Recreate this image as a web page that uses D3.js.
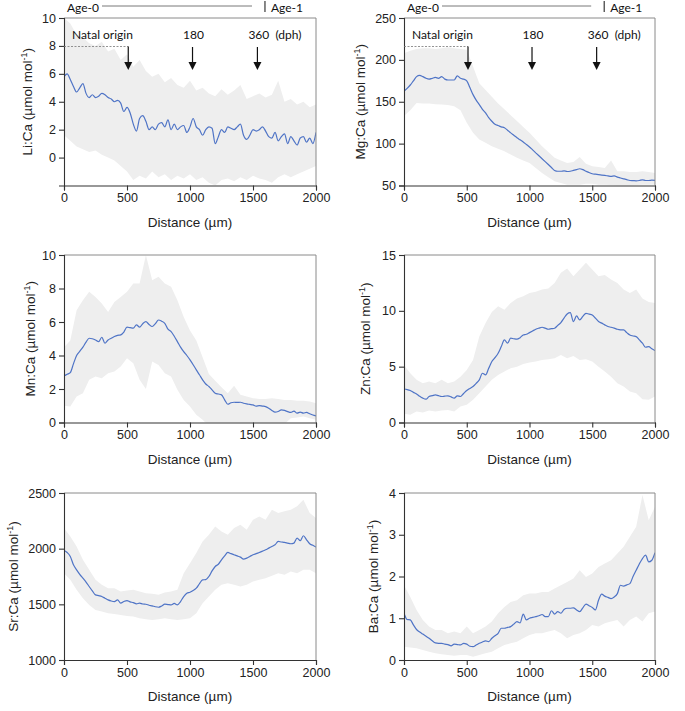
<!DOCTYPE html>
<html><head><meta charset="utf-8">
<script src="https://cdn.jsdelivr.net/npm/d3@7"></script>
<style>
body{margin:0;background:#fff;}
svg{display:block;}
.tick text{font-family:"Liberation Sans",Arial,sans-serif;font-size:12.5px;fill:#222;}
.ann{font-family:Lato,"Open Sans",sans-serif;font-size:12px;fill:#111;}
</style></head>
<body>
<svg id="c" width="685" height="711"></svg>
<script>
// ---------- DATA ----------
const meanStep = 25, bandStep = 50;
const liMean = [5.8,6.0,5.6,5.1,4.7,5.0,5.3,4.6,4.3,4.5,4.3,4.4,4.6,4.5,4.3,4.2,4.0,4.1,3.9,3.3,3.6,3.2,2.4,1.9,2.8,3.0,2.6,2.0,2.2,2.0,2.4,2.5,2.2,2.7,2.0,2.4,2.0,2.2,2.3,1.8,2.2,2.8,2.2,2.0,1.6,2.0,2.2,2.1,1.0,1.5,2.0,1.8,2.2,2.1,2.0,2.2,2.4,1.6,1.3,1.6,2.0,1.9,2.0,2.2,1.9,1.5,1.4,1.8,1.2,1.5,1.7,1.0,1.5,1.2,0.9,1.4,1.5,1.1,1.4,1.0,1.8];
const liHigh = [10,9.6,8.8,8.6,8.2,8.0,8.3,7.6,7.8,7.0,7.4,6.5,7.0,6.2,5.8,6.0,5.4,5.7,5.2,5.0,5.5,4.8,5.0,4.6,4.4,4.9,4.5,4.8,5.2,4.2,4.4,4.6,4.3,4.5,5.5,4.0,4.2,3.8,4.0,3.6,3.8];
const liLow = [1.6,1.2,0.8,0.6,0.4,0.5,0.2,0.0,-0.2,-0.6,-1.0,-1.6,-1.3,-1.5,-1.0,-1.4,-1.2,-1.6,-1.3,-1.5,-1.2,-1.6,-1.4,-1.8,-2.0,-1.6,-1.5,-1.7,-1.4,-1.6,-1.3,-1.5,-1.6,-1.8,-1.4,-1.2,-1.4,-1.2,-1.0,-0.8,-0.6];

const mgMean = [162.5,166,170,175,180,181.5,180,178,177,178,179,178,180,177,176,176,176,181,178,177,175,167,158.5,152,146.6,141,136.7,131,126.7,123,121.6,120,119,116,112.8,110,107,104.5,102,99,96,92.5,89,85.5,82,78.5,75,71.5,68,67,67,67.5,66.7,67,68,69,70,69,67,65.5,64,63.5,63,62.5,62,61.5,61,61.5,60,59,58,57,56,55.8,55.6,56,56.8,56,56,56.3,56];
const mgHigh = [208,211,213,214,214,213,214,215,214,213,212,192,172,164,156,148,141,134,127,120,113,105,97,90,83,80,77,78,84,76,73,72,71,80,67,67,66,66,67,66,65];
const mgLow = [133,140,148.6,148,148,147,146.6,146,144.6,140,125,113,105,101,97,94,91,87,83,80,77,71,65,60,55,53,51,51,51,52,52,51,51,50.5,50,50,50,50.5,51,51,51];

const mnMean = [2.78,2.88,2.98,3.5,4.0,4.25,4.5,4.8,5.03,5.0,4.93,4.83,5.09,4.73,4.93,5.03,5.13,5.2,5.23,5.4,5.69,5.66,5.63,5.83,5.69,5.9,6.02,5.85,5.73,5.9,6.12,6.05,5.92,5.57,5.43,5.15,4.83,4.5,4.23,4.0,3.74,3.45,3.14,2.85,2.54,2.3,2.15,1.95,1.75,1.7,1.65,1.35,1.09,1.18,1.21,1.2,1.21,1.15,1.11,1.08,1.05,0.98,1.01,0.98,0.95,0.85,0.72,0.62,0.66,0.75,0.72,0.65,0.6,0.68,0.56,0.62,0.56,0.6,0.52,0.45,0.4];
const mnHigh = [4.5,4.9,6.7,7.3,7.8,7.5,7.1,6.6,7.2,7.5,7.8,8.3,8.3,10.0,8.5,8.7,8.3,8.1,7.3,6.3,5.5,4.9,3.9,2.9,2.5,2.1,1.75,2.2,1.65,1.55,1.45,1.4,1.4,1.45,1.4,1.35,1.35,1.3,1.3,1.25,1.15];
const mnLow = [1.0,0.95,1.55,1.75,2.55,2.75,2.64,2.94,3.04,3.34,3.84,3.54,2.55,2.0,3.64,3.44,2.94,2.75,1.95,1.35,0.95,0.46,0.16,-0.2,-0.3,-0.3,-0.3,-0.3,-0.3,-0.3,-0.2,-0.3,-0.3,-0.2,-0.2,-0.1,0.26,0.3,0.36,0.25,0.16];

const znMean = [3.0,2.95,2.86,2.7,2.56,2.35,2.18,2.09,2.33,2.4,2.48,2.4,2.33,2.36,2.39,2.3,2.18,2.39,2.33,2.6,2.86,3.05,3.22,3.5,3.82,4.41,4.26,4.86,5.46,5.8,6.2,6.8,7.4,7.1,7.55,7.5,7.46,7.6,7.84,7.9,8.05,8.2,8.35,8.45,8.53,8.45,8.35,8.4,8.44,8.7,8.95,9.35,9.72,9.84,9.04,9.54,9.19,9.5,9.78,9.7,9.63,9.35,9.04,8.9,8.74,8.6,8.53,8.45,8.35,8.3,8.29,8.05,7.84,7.75,7.69,7.4,7.1,6.74,6.8,6.6,6.44];
const znHigh = [5.16,4.41,3.82,3.52,3.67,3.52,3.82,3.52,3.67,4.1,4.7,5.6,7.7,8.9,9.9,10.4,10.1,10.7,11.1,11.3,11.6,11.7,11.9,12.0,12.5,13.4,13.8,13.1,13.7,14.3,13.7,13.1,13.2,12.8,12.5,11.9,11.6,11.9,11.1,10.8,10.7];
const znLow = [0.78,0.69,0.98,0.89,1.07,0.98,1.07,1.13,0.98,1.43,1.58,2.03,2.62,3.22,3.82,4.26,4.56,4.86,5.0,5.25,5.37,5.46,5.6,5.67,5.76,6.05,5.76,5.96,5.6,5.67,5.46,5.0,4.56,4.1,3.52,3.22,2.77,2.62,2.09,2.03,2.33];

const srMean = [1984,1966,1930,1855,1810,1770,1735,1700,1660,1620,1585,1578,1570,1555,1540,1530,1525,1540,1510,1525,1534,1522,1516,1505,1510,1503,1501,1492,1486,1478,1474,1485,1501,1498,1495,1508,1495,1525,1570,1600,1609,1625,1645,1685,1720,1722,1750,1800,1840,1860,1900,1935,1966,1955,1945,1935,1924,1906,1915,1930,1945,1955,1966,1978,1990,2005,2020,2035,2065,2060,2056,2050,2044,2050,2095,2071,2116,2080,2044,2030,2014];
const srHigh = [2185,2110,2020,1900,1810,1720,1675,1645,1645,1615,1624,1630,1615,1600,1594,1585,1606,1615,1630,1780,1870,1960,2065,2125,2200,2155,2125,2185,2215,2170,2260,2290,2260,2350,2320,2335,2350,2380,2440,2320,2275];
const srLow = [1780,1720,1630,1555,1495,1450,1435,1420,1414,1405,1396,1390,1375,1366,1360,1366,1375,1366,1360,1366,1375,1420,1510,1570,1630,1675,1690,1675,1660,1675,1705,1720,1735,1756,1780,1765,1795,1780,1810,1810,1780];

const baMean = [1.12,0.97,0.96,0.84,0.73,0.67,0.62,0.57,0.52,0.46,0.41,0.40,0.40,0.38,0.37,0.34,0.38,0.37,0.36,0.40,0.38,0.33,0.32,0.36,0.40,0.43,0.46,0.44,0.52,0.58,0.64,0.76,0.76,0.78,0.80,0.86,0.92,0.89,1.10,0.96,1.0,1.02,1.04,1.06,1.09,1.04,1.04,1.18,1.10,1.16,1.12,1.21,1.24,1.24,1.25,1.20,1.16,1.25,1.34,1.30,1.26,1.20,1.43,1.58,1.53,1.50,1.47,1.51,1.59,1.79,1.77,1.80,1.83,2.0,2.15,2.30,2.43,2.51,2.35,2.39,2.57];
const baHigh = [1.79,1.51,1.2,0.96,0.8,0.72,0.72,0.64,0.68,0.64,0.8,0.64,0.72,0.8,0.92,1.12,1.27,1.39,1.43,1.55,1.59,1.59,1.63,1.63,1.71,1.79,1.87,1.95,2.15,1.99,2.07,2.23,2.31,2.39,2.55,2.71,2.95,3.19,3.95,3.35,3.67];
const baLow = [0.32,0.30,0.28,0.24,0.2,0.16,0.14,0.12,0.1,0.12,0.12,0.08,0.12,0.16,0.2,0.28,0.36,0.4,0.44,0.52,0.6,0.64,0.64,0.68,0.72,0.64,0.52,0.6,0.64,0.72,0.84,0.8,0.88,0.92,0.96,0.8,0.96,1.04,0.92,1.12,1.16];

const xTicks = [0,500,1000,1500,2000];
const liTicks = [0,2,4,6,8,10], mgTicks = [50,100,150,200,250], mnTicks = [0,2,4,6,8,10];
const znTicks = [0,5,10,15], srTicks = [1000,1500,2000,2500], baTicks = [0,1,2,3,4];
const markers = ["Natal origin","180","360"];
const markerDist = [510,1020,1535];

// ---------- LAYOUT ----------
const svg = d3.select("#c");
const FONT = '"Liberation Sans",Arial,sans-serif';
const cols = [[64,316],[404,655]];
const rows = [[185.5,18],[422.5,255],[660,493]];
const panels = [
  {el:"Li", mean:liMean, hi:liHigh, lo:liLow, dom:[-2,10], ticks:liTicks, c:0, r:0, lx:27},
  {el:"Mg", mean:mgMean, hi:mgHigh, lo:mgLow, dom:[50,250], ticks:mgTicks, c:1, r:0, lx:360},
  {el:"Mn", mean:mnMean, hi:mnHigh, lo:mnLow, dom:[0,10], ticks:mnTicks, c:0, r:1, lx:30},
  {el:"Zn", mean:znMean, hi:znHigh, lo:znLow, dom:[0,15], ticks:znTicks, c:1, r:1, lx:365},
  {el:"Sr", mean:srMean, hi:srHigh, lo:srLow, dom:[1000,2500], ticks:srTicks, c:0, r:2, lx:13},
  {el:"Ba", mean:baMean, hi:baHigh, lo:baLow, dom:[0,4], ticks:baTicks, c:1, r:2, lx:373},
];

panels.forEach((p,i)=>{
  const x = d3.scaleLinear().domain([0,2000]).range(cols[p.c]);
  const y = d3.scaleLinear().domain(p.dom).range(rows[p.r]);
  const g = svg.append("g");
  const cid = "clip"+i;
  svg.append("clipPath").attr("id",cid).append("rect")
    .attr("x",x.range()[0]).attr("y",y.range()[1])
    .attr("width",x.range()[1]-x.range()[0]).attr("height",y.range()[0]-y.range()[1]);
  const bandData = p.hi.map((h,k)=>({d:k*bandStep,h:h,l:p.lo[k]}));
  g.append("path").datum(bandData).attr("clip-path",`url(#${cid})`)
    .attr("fill","#eeeeee")
    .attr("d",d3.area().x(d=>x(d.d)).y0(d=>y(d.l)).y1(d=>y(d.h)).curve(d3.curveLinear));
  const meanData = p.mean.map((v,k)=>({d:k*meanStep,v:v}));
  g.append("path").datum(meanData).attr("clip-path",`url(#${cid})`)
    .attr("fill","none").attr("stroke","#4f74c6").attr("stroke-width",1.2)
    .attr("d",d3.line().x(d=>x(d.d)).y(d=>y(d.v)).curve(d3.curveMonotoneX));
  // frame top/right
  g.append("path").attr("fill","none").attr("stroke","#8a8a8a").attr("stroke-width",1)
    .attr("d",`M${x.range()[0]},${y.range()[1]}H${x.range()[1]}V${y.range()[0]}`);
  const ax = g.append("g").attr("transform",`translate(0,${y.range()[0]})`)
    .call(d3.axisBottom(x).tickValues(xTicks).tickSize(5).tickPadding(3).tickFormat(d3.format("d")));
  const ay = g.append("g").attr("transform",`translate(${x.range()[0]},0)`)
    .call(d3.axisLeft(y).tickValues(p.ticks).tickSize(5).tickPadding(3).tickFormat(d3.format("d")));
  [ax,ay].forEach(a=>{a.selectAll("path,line").attr("stroke","#333").attr("stroke-width",1.1);});
  // x label
  g.append("text").attr("x",(x.range()[0]+x.range()[1])/2).attr("y",y.range()[0]+41)
    .attr("text-anchor","middle").style("font-family",FONT).style("font-size","13.5px").attr("fill","#222")
    .text("Distance (µm)");
  // y label
  const yl = g.append("text").attr("transform",`translate(${p.lx},${(y.range()[0]+y.range()[1])/2}) rotate(-90)`)
    .attr("text-anchor","middle").attr("dy","0.35em").style("font-family",FONT).style("font-size","13.5px").attr("fill","#222");
  yl.append("tspan").text(p.el+":Ca (µmol mol");
  yl.append("tspan").attr("dy","-5").style("font-size","9px").text("-1");
  yl.append("tspan").attr("dy","5").text(")");

  if(p.r===0){
    const x0 = x.range()[0];
    const agebar = x(1595);
    g.append("text").attr("class","ann").attr("x",x0+3).attr("y",11.5).text("Age-0");
    g.append("line").attr("x1",x0+38).attr("x2",agebar-13).attr("y1",6).attr("y2",6)
      .attr("stroke","#555").attr("stroke-width",0.8);
    g.append("line").attr("x1",agebar).attr("x2",agebar).attr("y1",1).attr("y2",12)
      .attr("stroke","#111").attr("stroke-width",1);
    g.append("text").attr("class","ann").attr("x",agebar+6).attr("y",11.5).text("Age-1");
    g.append("line").attr("x1",x0).attr("x2",x(markerDist[0])).attr("y1",46.5).attr("y2",46.5)
      .attr("stroke","#777").attr("stroke-width",0.8).attr("stroke-dasharray","2,1.5");
    markerDist.forEach((md,k)=>{
      const mx = x(md);
      g.append("line").attr("x1",mx).attr("x2",mx).attr("y1",k===0?46.5:47).attr("y2",63)
        .attr("stroke","#111").attr("stroke-width",1.2);
      g.append("path").attr("d",`M${mx-4},62L${mx+4},62L${mx},70Z`).attr("fill","#111");
      if(k===0) g.append("text").attr("class","ann").attr("x",x0+8).attr("y",39).text(markers[k]);
      else if(k===1) g.append("text").attr("class","ann").attr("x",mx+1).attr("y",39).attr("text-anchor","middle").text(markers[k]);
      else g.append("text").attr("class","ann").attr("x",mx-9).attr("y",39).text(markers[k]+"  (dph)").attr("xml:space","preserve");
    });
  }
});
</script>
</body></html>
